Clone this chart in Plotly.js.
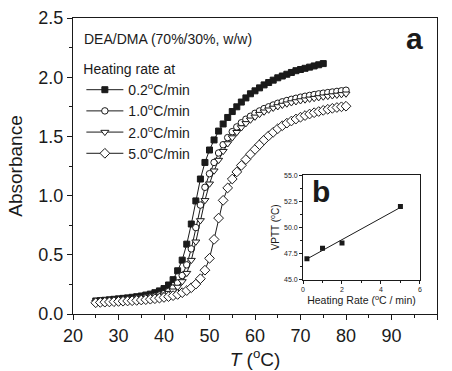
<!DOCTYPE html>
<html>
<head>
<meta charset="utf-8">
<script src="https://cdn.plot.ly/plotly-3.0.1.min.js"></script>
<style>
html,body{margin:0;padding:0;background:#fff;}
#chart{width:452px;height:371px;}
</style>
</head>
<body>
<div id="chart"></div>
<script>
// Temperature (°C)
const temps = [25,26,27,28,29,30,31,32,33,34,35,36,37,38,39,40,41,42,43,44,45,46,47,48,49,50,
  51,52,53,54,55,56,57,58,59,60,61,62,63,64,65,66,67,68,69,70,71,72,73,74,75,76,77,78,79,80];
const temps02 = [25,26,27,28,29,30,31,32,33,34,35,36,37,38,39,40,41,42,43,44,45,46,47,48,49,50,
  51,52,53,54,55,56,57,58,59,60,61,62,63,64,65,66,67,68,69,70,71,72,73,74,75];

// Absorbance at heating rate 0.2 °C/min
const abs02 = [0.110,0.113,0.116,0.120,0.124,0.128,0.132,0.136,0.141,0.146,0.152,0.160,0.168,0.180,0.195,
  0.215,0.245,0.290,0.365,0.455,0.590,0.760,0.955,1.140,1.280,1.385,1.470,1.545,1.605,1.660,1.710,1.750,
  1.790,1.825,1.860,1.885,1.910,1.935,1.955,1.975,1.995,2.010,2.025,2.040,2.055,2.065,2.075,2.085,2.095,
  2.105,2.115];
// 1.0 °C/min
const abs10 = [0.100,0.103,0.106,0.109,0.112,0.115,0.118,0.121,0.124,0.128,0.132,0.137,0.143,0.150,0.160,
  0.172,0.190,0.220,0.262,0.325,0.415,0.550,0.730,0.920,1.070,1.185,1.280,1.360,1.430,1.490,1.540,1.580,
  1.615,1.645,1.670,1.695,1.715,1.735,1.750,1.765,1.780,1.792,1.803,1.813,1.822,1.831,1.839,1.846,1.853,
  1.859,1.865,1.870,1.875,1.880,1.885,1.890];
// 2.0 °C/min
const abs20 = [0.098,0.101,0.104,0.107,0.110,0.113,0.116,0.119,0.122,0.125,0.129,0.133,0.138,0.144,0.152,
  0.162,0.176,0.196,0.228,0.275,0.345,0.455,0.610,0.790,0.960,1.100,1.210,1.300,1.375,1.440,1.490,1.535,
  1.575,1.610,1.640,1.665,1.688,1.708,1.725,1.740,1.753,1.765,1.776,1.786,1.795,1.803,1.810,1.817,1.823,
  1.829,1.835,1.840,1.845,1.850,1.855,1.860];
// 5.0 °C/min
const abs50 = [0.095,0.098,0.100,0.102,0.104,0.106,0.108,0.110,0.112,0.115,0.118,0.121,0.125,0.129,0.134,
  0.140,0.147,0.155,0.165,0.180,0.198,0.222,0.252,0.298,0.370,0.470,0.630,0.810,0.960,1.065,1.140,1.200,
  1.255,1.305,1.350,1.390,1.430,1.470,1.505,1.535,1.565,1.590,1.612,1.630,1.647,1.662,1.676,1.689,1.700,
  1.710,1.720,1.729,1.737,1.744,1.750,1.755];

const seriesNames = ['0.2<sup>o</sup>C/min','1.0<sup>o</sup>C/min','2.0<sup>o</sup>C/min','5.0<sup>o</sup>C/min'];

// Inset: VPTT vs heating rate
const rates = [0.2, 1, 2, 5];
const vptt = [47.0, 48.0, 48.5, 52.0];

// linear fit from the inset data
const n = rates.length;
const mx = rates.reduce((a,b)=>a+b,0)/n, my = vptt.reduce((a,b)=>a+b,0)/n;
let sxy=0,sxx=0; for(let i=0;i<n;i++){sxy+=(rates[i]-mx)*(vptt[i]-my);sxx+=(rates[i]-mx)**2;}
const slope=sxy/sxx, icpt=my-slope*mx;
const fitX=[rates[0], rates[n-1]];
const fitY=fitX.map(x=>icpt+slope*x);

const INK = '#1a1a1a';
const FONT = 'Liberation Sans, Arial, sans-serif';

function curve(x,y,name,symbol,fill,size){
  return {x:x,y:y,name:name,type:'scatter',mode:'lines+markers',
    line:{color:INK,width:1},
    marker:{symbol:symbol,size:size,color:fill,line:{color:INK,width:1}},
    xaxis:'x',yaxis:'y'};
}

const data = [
  curve(temps02,abs02,seriesNames[0],'square',INK,6),
  curve(temps,abs10,seriesNames[1],'circle','#fff',6.5),
  curve(temps,abs20,seriesNames[2],'triangle-down','#fff',7),
  curve(temps,abs50,seriesNames[3],'diamond','#fff',7.5),
  {x:fitX,y:fitY,type:'scatter',mode:'lines',line:{color:INK,width:1},showlegend:false,xaxis:'x2',yaxis:'y2'},
  {x:rates,y:vptt,type:'scatter',mode:'markers',marker:{symbol:'square',size:5,color:INK},showlegend:false,xaxis:'x2',yaxis:'y2'}
];

const axBase = {showline:true,linecolor:INK,linewidth:1,mirror:true,ticks:'outside',tickcolor:INK,
  showgrid:false,zeroline:false};

const layout = {
  width:452,height:371,
  margin:{l:73,r:15,t:17.5,b:57,pad:0},
  paper_bgcolor:'#fff',plot_bgcolor:'#fff',
  font:{family:FONT,color:INK},
  showlegend:true,
  legend:{x:0.023,y:0.872,xanchor:'left',yanchor:'top',bgcolor:'rgba(0,0,0,0)',
    font:{size:14,family:FONT,color:INK},
    title:{text:'Heating rate at',font:{size:14,family:FONT,color:INK}},
    itemwidth:37,tracegroupgap:0},
  xaxis:Object.assign({},axBase,{range:[20,100],dtick:10,tick0:0,ticklen:5,tickwidth:1,
    minor:{ticks:'outside',dtick:5,ticklen:3,tickcolor:INK},
    tickfont:{size:18,family:FONT,color:INK},
    title:{text:'<i>T</i> (<sup>o</sup>C)',font:{size:19,family:FONT,color:INK},standoff:5},
    domain:[0,1],anchor:'y'}),
  yaxis:Object.assign({},axBase,{range:[0,2.5],dtick:0.5,tick0:0,ticklen:5,tickwidth:1,tickformat:'.1f',
    minor:{ticks:'outside',dtick:0.25,ticklen:3,tickcolor:INK},
    tickfont:{size:18,family:FONT,color:INK},
    title:{text:'Absorbance',font:{size:19,family:FONT,color:INK},standoff:10},
    domain:[0,1],anchor:'x'}),
  xaxis2:Object.assign({},axBase,{range:[0,6],dtick:2,tick0:0,ticklen:3,tickwidth:1,
    minor:{ticks:'outside',dtick:1,ticklen:2,tickcolor:INK},
    tickfont:{size:7,family:FONT,color:INK},
    title:{text:'Heating Rate (<sup>o</sup>C / min)',font:{size:10.5,family:FONT,color:INK},standoff:2},
    domain:[0.632,0.953],anchor:'y2'}),
  yaxis2:Object.assign({},axBase,{range:[45,55],dtick:2.5,tick0:45,ticklen:3,tickwidth:1,tickformat:'.1f',
    minor:{ticks:'outside',dtick:1.25,ticklen:2,tickcolor:INK},
    tickfont:{size:7,family:FONT,color:INK},
    title:{text:'VPTT (<sup>o</sup>C)',font:{size:10,family:FONT,color:INK},standoff:2},
    domain:[0.1164,0.4688],anchor:'x2'}),
  annotations:[
    {text:'DEA/DMA (70%/30%, w/w)',xref:'paper',yref:'paper',x:0.024,y:0.9275,xanchor:'left',yanchor:'middle',
      showarrow:false,font:{size:14,family:FONT,color:INK}},
    {text:'<b>a</b>',xref:'paper',yref:'paper',x:0.937,y:0.93,xanchor:'center',yanchor:'middle',
      showarrow:false,font:{size:30,family:FONT,color:INK}},
    {text:'<b>b</b>',xref:'paper',yref:'paper',x:0.68,y:0.415,xanchor:'center',yanchor:'middle',
      showarrow:false,font:{size:30,family:FONT,color:INK}}
  ]
};

Plotly.newPlot('chart',data,layout,{displayModeBar:false,staticPlot:true});
</script>
</body>
</html>
